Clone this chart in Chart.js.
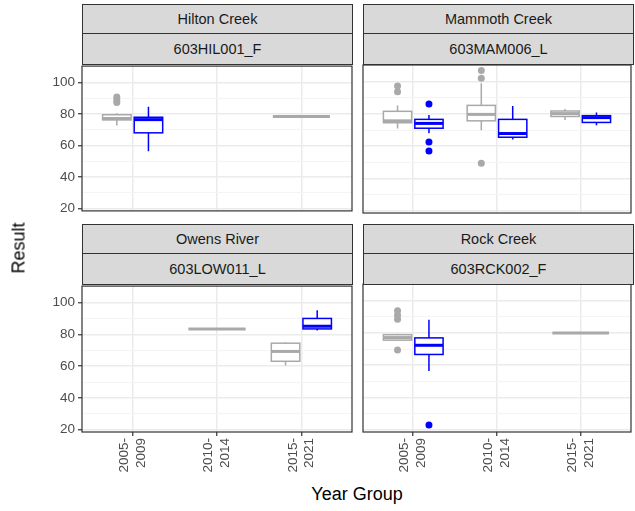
<!DOCTYPE html>
<html>
<head>
<meta charset="utf-8">
<script src="https://cdn.jsdelivr.net/npm/chart.js@4.4.1/dist/chart.umd.min.js"></script>
<style>
  body { margin: 0; background: #fff; font-family: "Liberation Sans", Arial, sans-serif; }
  #fig { position: relative; width: 635px; height: 511px; overflow: hidden; background: #fff; }
  #fig canvas { position: absolute; }
  .strip { position: absolute; box-sizing: border-box; background: #D9D9D9; border: 1px solid #333;
           color: #1A1A1A; font-size: 14.5px; text-align: center; }
  .title { position: absolute; font-size: 18px; color: #000; white-space: nowrap; }
</style>
</head>
<body>
<div id="fig"></div>
<script>
const yearGroups = [['2005-', '2009'], ['2010-', '2014'], ['2015-', '2021']];
const sites = ['Hilton Creek', 'Mammoth Creek', 'Owens River', 'Rock Creek'];
const stations = ['603HIL001_F', '603MAM006_L', '603LOW011_L', '603RCK002_F'];
const yTicks = [20, 30, 40, 50, 60, 70, 80, 90, 100];

// box stats per year group: [lower whisker, q1, median, q3, upper whisker]
const hiltonGrey = [[72.7, 76.3, 77.2, 79.6, 80.5], null, [78.5, 78.5, 78.5, 78.5, 78.5]];
const hiltonGreyOut = [[87.4, 89, 90.8], [], []];
const hiltonBlue = [[56.4, 68.1, 76.5, 78.0, 84.6], null, null];
const hiltonBlueOut = [[], [], []];

const mammothGrey = [[71, 74.6, 75.8, 81.7, 85.4], [70, 75.8, 79.8, 85.4, 99.2], [76.3, 78.5, 80.3, 81.9, 83.1]];
const mammothGreyOut = [[93.9, 97.5], [49.4, 102.3, 107.1], []];
const mammothBlue = [[68, 71.2, 74.2, 76.7, 79.4], [64.2, 65.6, 67.9, 76.7, 85], [73.1, 74.8, 77.8, 79, 81]];
const mammothBlueOut = [[57, 62.7, 86.2], [], []];

const owensGrey = [null, [83.5, 83.5, 83.5, 83.5, 83.5], [60.5, 63.1, 69.3, 74.5, 75.1]];
const owensGreyOut = [[], [], []];
const owensBlue = [null, null, [82.5, 83.5, 85.2, 90.1, 95.2]];
const owensBlueOut = [[], [], []];

const rockGrey = [[75, 75.6, 77.2, 79, 79.6], null, [80, 80, 80, 80, 80]];
const rockGreyOut = [[69.4, 88.6, 91, 93.8], [], []];
const rockBlue = [[56.4, 66.7, 72.4, 77, 88.3], null, null];
const rockBlueOut = [[22.9], [], []];

const GREY = '#A9A9A9';
const BLUE = '#0000FF';

const panels = [
  [{ stats: hiltonGrey, out: hiltonGreyOut, color: GREY }, { stats: hiltonBlue, out: hiltonBlueOut, color: BLUE }],
  [{ stats: mammothGrey, out: mammothGreyOut, color: GREY }, { stats: mammothBlue, out: mammothBlueOut, color: BLUE }],
  [{ stats: owensGrey, out: owensGreyOut, color: GREY }, { stats: owensBlue, out: owensBlueOut, color: BLUE }],
  [{ stats: rockGrey, out: rockGreyOut, color: GREY }, { stats: rockBlue, out: rockBlueOut, color: BLUE }]
];

// dodge like ggplot: two boxes share 0.75 of a slot, a lone box takes it all
function slot(series, i, s) {
  const present = series.filter(d => d.stats[i]);
  const k = present.indexOf(s);
  if (present.length === 1) return { cx: i + 1, w: 0.675 };
  return { cx: i + 1 + (k === 0 ? -0.1875 : 0.1875), w: 0.3375 };
}

const boxPlugin = {
  id: 'boxes',
  beforeDatasetsDraw(chart, args, opts) {
    const { ctx } = chart;
    const x = chart.scales.x, y = chart.scales.y;
    const series = opts.series;
    ctx.save();
    series.forEach(s => {
      s.stats.forEach((st, i) => {
        if (!st) return;
        const { cx, w } = slot(series, i, s);
        const px = x.getPixelForValue(cx);
        const xl = x.getPixelForValue(cx - w / 2), xr = x.getPixelForValue(cx + w / 2);
        const [lo, q1, med, q3, hi] = st.map(v => y.getPixelForValue(v));
        ctx.strokeStyle = s.color;
        ctx.lineWidth = 1.5;
        ctx.beginPath();
        ctx.moveTo(px, lo); ctx.lineTo(px, q1);
        ctx.moveTo(px, q3); ctx.lineTo(px, hi);
        ctx.stroke();
        ctx.fillStyle = '#fff';
        ctx.fillRect(xl, q3, xr - xl, q1 - q3);
        ctx.strokeRect(xl, q3, xr - xl, q1 - q3);
        ctx.lineWidth = 3;
        ctx.beginPath();
        ctx.moveTo(xl, med); ctx.lineTo(xr, med);
        ctx.stroke();
      });
    });
    ctx.restore();
  },
  afterDraw(chart) {
    const { ctx, chartArea: a } = chart;
    ctx.save();
    ctx.strokeStyle = '#333333';
    ctx.lineWidth = 1.2;
    ctx.strokeRect(a.left, a.top, a.right - a.left, a.bottom - a.top);
    ctx.restore();
  }
};

const fig = document.getElementById('fig');

function makePanel(series, idx) {
  const col = idx % 2, row = Math.floor(idx / 2);
  const plot = { x0: col ? 363 : 82, x1: col ? 633 : 352, y0: row ? 284 : 65, y1: row ? 432 : 213 };
  const cv = { x0: col ? 356 : 0, x1: col ? 635 : 356, y0: row ? 275 : 55, y1: row ? 482 : 222 };
  const canvas = document.createElement('canvas');
  canvas.width = cv.x1 - cv.x0;
  canvas.height = cv.y1 - cv.y0;
  canvas.style.left = cv.x0 + 'px';
  canvas.style.top = cv.y0 + 'px';
  fig.appendChild(canvas);

  const datasets = series.map(s => ({
    data: s.out.flatMap((vals, i) => vals.map(v => ({ x: slot(series, i, s).cx, y: v }))),
    backgroundColor: s.color,
    borderWidth: 0,
    pointRadius: 3.5
  }));

  new Chart(canvas, {
    type: 'scatter',
    data: { datasets },
    plugins: [boxPlugin],
    options: {
      responsive: false,
      animation: false,
      layout: {
        padding: {
          left: col ? plot.x0 - cv.x0 : 0,
          right: cv.x1 - plot.x1,
          top: plot.y0 - cv.y0,
          bottom: row ? 0 : cv.y1 - plot.y1
        }
      },
      plugins: {
        legend: { display: false },
        tooltip: { enabled: false },
        boxes: { series }
      },
      scales: {
        x: {
          type: 'linear', min: 0.4, max: 3.6,
          afterBuildTicks: sc => { sc.ticks = [1, 2, 3].map(v => ({ value: v })); },
          afterFit: sc => { sc.height = row ? cv.y1 - plot.y1 : 0; },
          border: { display: false },
          grid: { color: '#EBEBEB', lineWidth: 1.5, drawTicks: !!row, tickLength: 4, tickColor: '#333333', tickWidth: 1.2 },
          ticks: {
            display: !!row, minRotation: 90, maxRotation: 90, autoSkip: false, padding: 2,
            labelOffset: -8.5,
            color: '#4D4D4D', font: { family: '"Liberation Sans", Arial', size: 13.5, lineHeight: 1.25 },
            callback: v => yearGroups[v - 1]
          }
        },
        y: {
          min: 18.5, max: 110.5,
          afterBuildTicks: sc => { sc.ticks = yTicks.map(v => ({ value: v })); },
          afterFit: sc => { sc.width = col ? 0 : plot.x0 - cv.x0; },
          border: { display: false },
          grid: {
            color: c => (c.tick && c.tick.value % 20 === 0) ? '#EBEBEB' : '#F4F4F4',
            lineWidth: c => (c.tick && c.tick.value % 20 === 0) ? 1.5 : 1,
            drawTicks: !col, tickLength: 4, tickWidth: 1.2,
            tickColor: c => (c.tick && c.tick.value % 20 === 0) ? '#333333' : 'rgba(0,0,0,0)'
          },
          ticks: {
            display: !col, padding: 3, autoSkip: false,
            color: '#4D4D4D', font: { family: '"Liberation Sans", Arial', size: 13.5 },
            callback: v => v % 20 === 0 ? v : ''
          }
        }
      }
    }
  });

  // facet strips
  const top = row ? 224 : 4;
  [[sites[idx], top, 30], [stations[idx], top + 29, 32]].forEach(([txt, t, h]) => {
    const d = document.createElement('div');
    d.className = 'strip';
    d.textContent = txt;
    d.style.left = plot.x0 + 'px';
    d.style.width = (plot.x1 - plot.x0 + 1) + 'px';
    d.style.top = t + 'px';
    d.style.height = h + 'px';
    d.style.lineHeight = (h - 2) + 'px';
    fig.appendChild(d);
  });
}

panels.forEach(makePanel);

const yt = document.createElement('div');
yt.className = 'title';
yt.textContent = 'Result';
yt.style.left = '19px';
yt.style.top = '248px';
yt.style.transform = 'translate(-50%, -50%) rotate(-90deg)';
fig.appendChild(yt);

const xt = document.createElement('div');
xt.className = 'title';
xt.textContent = 'Year Group';
xt.style.left = '357px';
xt.style.top = '494px';
xt.style.transform = 'translate(-50%, -50%)';
fig.appendChild(xt);
</script>
</body>
</html>
